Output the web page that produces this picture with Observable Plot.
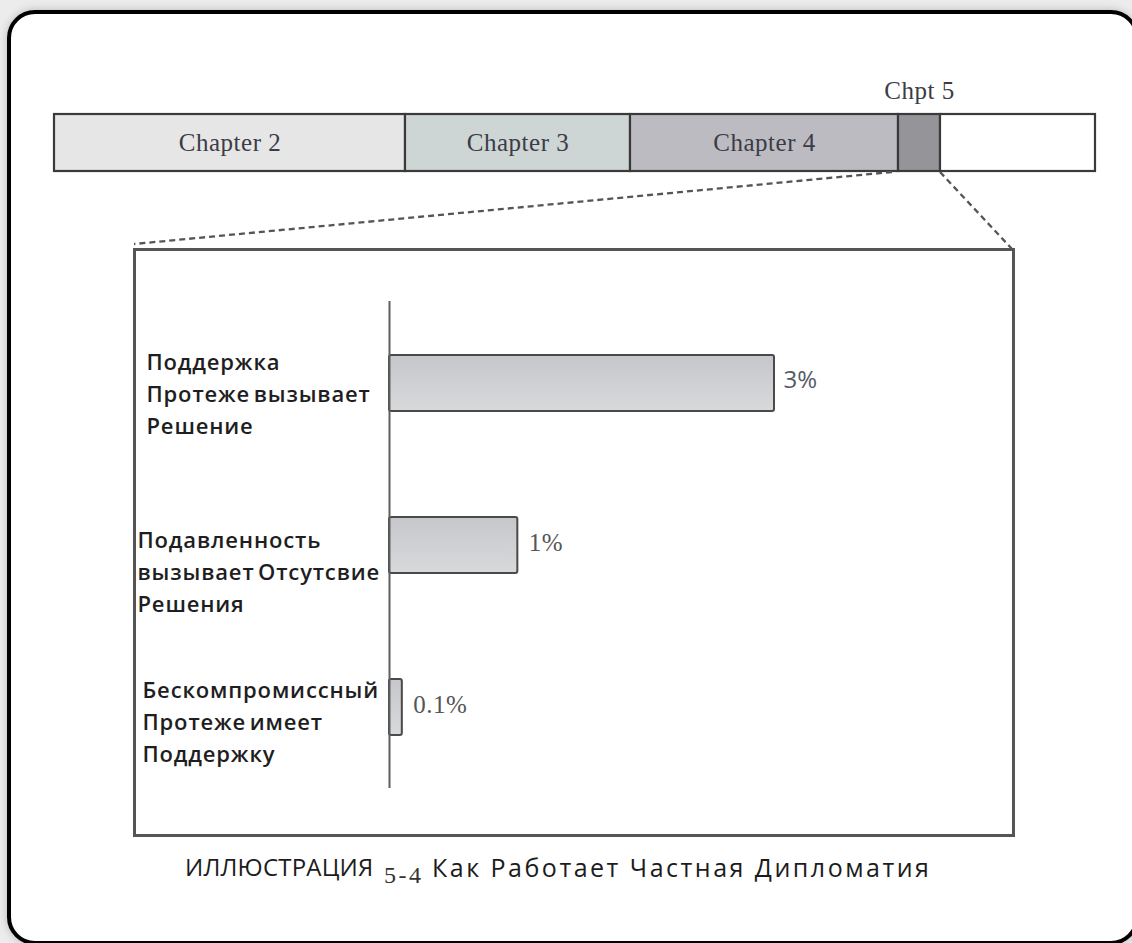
<!DOCTYPE html>
<html>
<head>
<meta charset="utf-8">
<script src="https://cdn.jsdelivr.net/npm/d3@7"></script>
<script src="https://cdn.jsdelivr.net/npm/@observablehq/plot@0.6"></script>
<style>
  html, body { margin: 0; padding: 0; background: #ececec; }
  #stage { position: relative; width: 1132px; height: 943px; overflow: hidden; }
  #frame { position: absolute; left: 7px; top: 10px; width: 1132px; height: 935px; box-sizing: border-box;
           border: 4.5px solid #000; border-radius: 28px; background: #fff; box-shadow: 0 0 8px rgba(0,0,0,0.22); }
  #top { position: absolute; left: 0; top: 0; }
  #box { position: absolute; left: 133px; top: 248px; width: 882px; height: 589px; box-sizing: border-box;
         border: 3px solid #555; }
  #inner { position: absolute; left: 134px; top: 249px; }
  .cap { position: absolute; white-space: nowrap; color: #1c1c1c; }
  #cap1 { left: 185px; top: 850px; font-family: "Open Sans", sans-serif; font-size: 24px; letter-spacing: 0.2px; }
  #cap2 { left: 384px; top: 862px; font-family: "Liberation Serif", serif; font-size: 24px; letter-spacing: 2.5px; color: #333; }
  #cap3 { left: 432px; top: 850px; font-family: "Open Sans", sans-serif; font-size: 25px; letter-spacing: 2.5px; }
</style>
</head>
<body>
<div id="stage">
  <div id="frame"></div>
  <div id="box"></div>
  <div id="top"></div>
  <div id="inner"></div>
  <div class="cap" id="cap1"></div>
  <div class="cap" id="cap2"></div>
  <div class="cap" id="cap3"></div>
</div>
<script>
// ---- data ----
const chapterNames = ["Chapter 2", "Chapter 3", "Chapter 4", "Chpt 5", "Remaining"];
const chapterLengths = [35.1, 22.5, 26.8, 4.2, 15.5];
const chapterColors = ["#e6e6e6", "#cdd5d5", "#bbbbc1", "#949499", "#ffffff"];

const findings = [
  "Поддержка\nПротеже вызывает\nРешение",
  "Подавленность\nвызывает Отсутсвие\nРешения",
  "Бескомпромиссный\nПротеже имеет\nПоддержку"
];
const percents = [3, 1, 0.1];
const percentLabels = ["3%", "1%", "0.1%"];

const captionWord = "ИЛЛЮСТРАЦИЯ";
const captionNumber = "5-4";
const captionTitle = "Как Работает Частная Дипломатия";

// ---- top chapter bar ----
const chapters = chapterNames.map((name, i) => ({name, len: chapterLengths[i], row: "book"}));
const total = d3.sum(chapterLengths);

const topPlot = Plot.plot({
  width: 1132, height: 262,
  marginTop: 0, marginBottom: 0, marginLeft: 0, marginRight: 0,
  style: {background: "none", overflow: "visible"},
  x: {domain: [0, total], range: [54, 1095], axis: null},
  y: {domain: ["book"], range: [114, 171], padding: 0, axis: null},
  color: {domain: chapterNames, range: chapterColors},
  marks: [
    Plot.barX(chapters, Plot.stackX({x: "len", y: "row", fill: "name", stroke: "#3a3a3a", strokeWidth: 2.2})),
    Plot.text(chapters, Plot.stackX({x: "len", y: "row", text: (d, i) => i < 3 ? d.name : null,
      fontFamily: "Liberation Serif, serif", fontSize: 25, fill: "#3c3c46"})),
    Plot.text(chapters, Plot.stackX({x: "len", y: "row", text: (d, i) => i === 3 ? d.name : null, dy: -52,
      fontFamily: "Liberation Serif, serif", fontSize: 25, fill: "#3c3c46"}))
  ]
});
document.getElementById("top").appendChild(topPlot);
d3.select(topPlot).selectAll('g[font-size="25"]').style("letter-spacing", "0.5px");

// dashed connectors from the Chpt 5 segment to the zoom box
const sx = topPlot.scale("x");
const c5start = d3.sum(chapterLengths.slice(0, 3));
const c5end = c5start + chapterLengths[3];
const svgTop = d3.select(topPlot);
svgTop.append("line")
  .attr("x1", sx.apply(c5start) - 6).attr("y1", 172).attr("x2", 134).attr("y2", 244)
  .attr("stroke", "#555").attr("stroke-width", 2.3).attr("stroke-dasharray", "6,4");
svgTop.append("line")
  .attr("x1", sx.apply(c5end)).attr("y1", 172).attr("x2", 1012).attr("y2", 249)
  .attr("stroke", "#555").attr("stroke-width", 2.3).attr("stroke-dasharray", "6,4");

// ---- inner bar chart ----
const rows = findings.map((f, i) => ({finding: f, pct: percents[i], label: percentLabels[i]}));

const gradient = () => {
  const defs = d3.create("svg:defs");
  const g = defs.append("linearGradient").attr("id", "barGrad")
    .attr("x1", 0).attr("y1", 0).attr("x2", 0).attr("y2", 1);
  g.append("stop").attr("offset", "0%").attr("stop-color", "#c6c7ca");
  g.append("stop").attr("offset", "100%").attr("stop-color", "#d8d9db");
  return defs.node();
};

const labelOffsets = [[12, 8], [3, 24], [8, 12]];

const innerPlot = Plot.plot({
  width: 880, height: 587,
  marginTop: 52, marginBottom: 48, marginLeft: 0, marginRight: 0,
  style: {background: "none", overflow: "visible"},
  x: {domain: [0, 3], range: [255, 640], axis: null},
  y: {domain: findings, range: [-1.5, 592.5], padding: 0.6554, axis: null},
  marks: [
    gradient,
    Plot.barX(rows, {x: "pct", y: "finding", fill: "url(#barGrad)", stroke: "#4a4a4a", strokeWidth: 2, rx: 2}),
    Plot.ruleX([0], {stroke: "#5e5e5e", strokeWidth: 2}),
    Plot.text(rows, {filter: d => d.pct >= 3, x: "pct", y: "finding", text: "label", dx: 9, dy: -3,
      textAnchor: "start", fontFamily: "Open Sans, sans-serif", fontSize: 24, fill: "#555a66"}),
    Plot.text(rows, {filter: d => d.pct < 3, x: "pct", y: "finding", text: "label", dx: 11, dy: -3,
      textAnchor: "start", fontFamily: "Liberation Serif, serif", fontSize: 25, fill: "#555"}),
    ...labelOffsets.map(([dx, dy], i) =>
      Plot.text(rows, {filter: (d, j) => j === i, y: "finding", text: "finding", frameAnchor: "left",
        textAnchor: "start", dx, dy, lineHeight: 1.46, fontFamily: "Open Sans, sans-serif",
        fontSize: 22, fontWeight: 600, fill: "#1e1e22"}))
  ]
});
document.getElementById("inner").appendChild(innerPlot);
d3.select(innerPlot).selectAll('g[font-weight="600"]').style("letter-spacing", "0.85px").style("word-spacing", "-3px");
d3.select(innerPlot).selectAll('g[font-size="25"]').style("letter-spacing", "0.5px");

// ---- caption ----
document.getElementById("cap1").textContent = captionWord;
document.getElementById("cap2").textContent = captionNumber;
document.getElementById("cap3").textContent = captionTitle;
</script>
</body>
</html>
